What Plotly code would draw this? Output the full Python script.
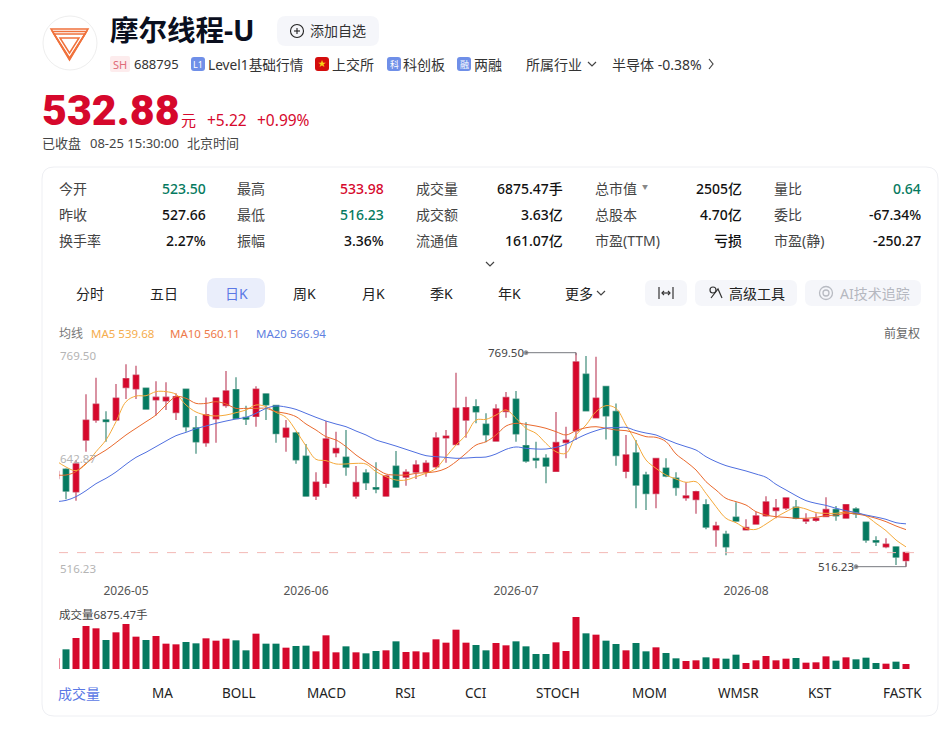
import plotly.graph_objects as go

W, H = 949, 731
FONT = "Noto Sans, Noto Sans CJK SC"
RED = "#d6082c"
GREEN = "#057a60"
BLUE = "#5b78e5"

# daily candles
opens = [620.8, 631.4, 605.0, 666.2, 689.8, 689.8, 689.8, 728.5, 726.9, 727.3, 713.9, 712.7, 698.9, 726.1, 680.4,
         663.0, 691.4, 707.2, 725.7, 692.6, 694.2, 720.6, 706.8, 669.7, 674.4, 646.8, 599.9, 614.9, 651.2, 645.6,
         599.9, 627.1, 609.7, 599.9, 635.0, 622.4, 628.3, 628.7, 634.6, 668.9, 661.0, 689.8, 705.6, 684.7, 665.0,
         700.1, 714.3, 659.4, 644.1, 644.5, 629.1, 663.4, 677.2, 743.9, 692.6, 729.3, 699.7, 629.1, 650.8, 624.7,
         603.0, 632.6, 620.8, 597.9, 595.9, 589.6, 560.0, 554.5, 574.6, 560.0, 566.8, 576.6, 582.9, 585.7, 586.5,
         570.3, 571.1, 575.8, 583.7, 573.8, 584.5, 568.7, 547.0, 539.9, 539.5, 523.50]
highs = [632.6, 632.6, 642.5, 720.2, 739.9, 700.1, 732.4, 755.7, 754.1, 727.3, 735.6, 734.4, 721.4, 726.1, 694.6,
         716.6, 716.6, 747.8, 740.3, 706.8, 729.7, 720.6, 706.8, 689.8, 676.0, 661.4, 627.9, 688.6, 676.0, 678.0,
         635.4, 631.4, 639.7, 624.7, 653.1, 631.4, 642.1, 642.1, 675.2, 678.0, 745.8, 717.4, 714.3, 697.7, 708.4,
         723.0, 724.1, 687.1, 664.2, 649.2, 699.3, 681.9, 769.50, 765.6, 764.8, 729.3, 709.5, 672.1, 666.2, 628.7,
         644.1, 644.5, 627.9, 616.1, 606.2, 595.9, 569.5, 558.9, 592.4, 572.3, 581.3, 599.5, 596.3, 598.3, 595.2,
         579.4, 579.4, 598.3, 588.0, 590.0, 586.5, 568.7, 552.1, 549.8, 539.5, 533.98]
lows = [616.8, 595.9, 594.4, 652.3, 686.7, 664.2, 689.8, 714.7, 714.7, 702.8, 695.3, 701.7, 689.8, 676.0, 650.0,
        658.3, 663.0, 704.4, 691.8, 683.9, 681.9, 689.8, 663.0, 652.3, 638.1, 599.9, 595.1, 609.7, 645.6, 623.9,
        596.7, 607.0, 603.0, 599.9, 610.5, 612.1, 620.0, 622.8, 631.4, 639.3, 660.2, 668.9, 685.9, 663.4, 665.0,
        692.6, 664.2, 639.3, 632.6, 614.9, 629.1, 644.5, 666.2, 700.1, 691.8, 666.9, 635.8, 620.8, 585.3, 583.3,
        585.3, 622.0, 600.3, 594.4, 579.0, 560.4, 539.9, 529.7, 569.5, 559.2, 566.8, 575.4, 573.5, 583.3, 572.3,
        566.8, 569.5, 575.4, 570.7, 573.8, 573.8, 544.7, 540.7, 538.0, 518.2, 516.23]
closes = [628.7, 605.8, 637.8, 689.4, 708.4, 688.2, 715.5, 738.7, 742.7, 702.8, 716.6, 716.6, 717.4, 681.9, 664.2,
          696.1, 715.9, 724.1, 691.8, 691.0, 726.1, 708.0, 674.0, 680.0, 642.9, 599.9, 616.1, 667.3, 655.9, 634.2,
          615.7, 615.7, 608.2, 623.5, 610.5, 627.9, 636.6, 638.5, 668.5, 670.5, 703.6, 704.4, 699.7, 672.5, 702.8,
          716.3, 673.6, 641.3, 642.5, 635.4, 663.0, 665.8, 758.5, 700.9, 715.5, 694.9, 648.0, 648.4, 612.9, 603.0,
          644.1, 623.5, 610.1, 599.9, 605.0, 563.2, 564.4, 539.9, 570.3, 562.4, 576.2, 592.8, 585.7, 597.5, 573.5,
          571.9, 573.1, 583.7, 576.6, 589.6, 579.0, 547.8, 545.4, 542.7, 527.66, 532.88]
volumes = [14660, 27020, 42590, 59080, 55880, 39850, 50380, 61830, 44430, 39850, 45340, 34810, 33890, 37100, 35270,
           42140, 38930, 41680, 39390, 25650, 48550, 34810, 34810, 29310, 31600, 32060, 24270, 46260, 22900, 31140,
           22900, 21530, 24730, 25650, 38010, 23360, 24270, 22900, 40760, 36180, 54040, 36180, 32980, 25650, 35720,
           32520, 38010, 31140, 20610, 20610, 36640, 24730, 71450, 49010, 47170, 38930, 34350, 25650, 35720, 24270,
           29770, 21980, 14660, 10990, 11910, 16030, 14660, 14200, 19690, 8240, 11910, 17860, 11910, 14200, 15110,
           8700, 9160, 17400, 11450, 16030, 13280, 15570, 8240, 7330, 10080, 6875.47]
ma5 = [641.7, 634.2, 629.9, 637.7, 652.3, 666.2, 687.8, 711.5, 718.2, 718.6, 723.4, 723.4, 720.2, 707.6, 699.3,
       695.7, 694.6, 695.7, 698.5, 701.7, 707.6, 705.6, 698.9, 693.0, 677.2, 659.0, 643.3, 641.7, 637.8, 637.8,
       638.5, 637.7, 628.7, 622.8, 618.8, 618.8, 622.8, 626.7, 632.6, 646.4, 660.2, 672.1, 689.8, 690.6, 695.7,
       701.7, 691.8, 680.0, 674.0, 662.2, 652.3, 650.4, 672.1, 683.9, 699.7, 706.8, 703.6, 683.9, 664.2, 642.5,
       632.6, 624.7, 620.0, 616.1, 616.8, 603.0, 587.3, 573.5, 568.3, 561.6, 560.4, 566.7, 574.6, 581.3, 586.5,
       584.5, 580.2, 579.4, 579.4, 581.0, 580.2, 576.2, 567.5, 558.9, 547.8, 539.68]
ma10 = [624.7, 624.7, 628.7, 638.5, 647.2, 654.3, 663.0, 672.1, 680.0, 687.8, 695.7, 707.6, 717.4, 715.5, 709.5,
        709.5, 711.5, 708.8, 703.6, 703.6, 703.6, 703.6, 699.7, 697.7, 693.8, 685.1, 678.0, 670.1, 666.2, 658.3,
        648.4, 640.5, 632.6, 625.9, 624.7, 624.7, 626.7, 627.5, 628.7, 632.6, 640.5, 650.4, 660.2, 664.2, 672.1,
        682.7, 685.9, 684.7, 682.7, 680.0, 676.0, 672.1, 677.2, 680.7, 681.9, 680.0, 678.0, 677.2, 674.0, 670.1,
        669.3, 664.2, 649.6, 640.5, 630.7, 616.8, 607.0, 597.1, 593.2, 589.2, 581.3, 577.4, 575.4, 574.6, 573.5,
        573.5, 574.6, 576.6, 577.4, 579.4, 578.6, 576.6, 573.5, 569.5, 564.4, 560.11]
ma20 = [593.2, 594.7, 599.1, 606.2, 614.5, 620.8, 628.3, 637.4, 645.6, 651.6, 658.3, 665.0, 671.3, 675.2, 679.6,
        682.7, 685.9, 688.6, 691.0, 693.0, 697.7, 703.6, 706.4, 705.2, 702.4, 697.7, 693.0, 688.6, 685.1, 681.9,
        676.8, 672.1, 666.2, 662.6, 659.0, 655.1, 651.2, 647.6, 646.4, 645.6, 644.5, 644.8, 645.6, 646.0, 649.6,
        655.1, 657.9, 656.3, 655.5, 655.5, 657.5, 661.0, 667.3, 672.9, 677.2, 680.4, 680.7, 681.1, 677.2, 674.4,
        672.1, 667.0, 662.2, 658.3, 654.3, 646.4, 640.5, 635.8, 632.6, 629.5, 625.9, 622.0, 613.7, 607.0, 600.3,
        594.4, 591.2, 588.8, 585.3, 582.5, 580.2, 577.4, 575.0, 572.3, 568.3, 566.94]

month_pos = [7, 25, 46, 69]
month_labels = ["2026-05", "2026-06", "2026-07", "2026-08"]
price_ticks = [769.50, 642.87, 516.23]
last_close = 532.88

days = list(range(len(closes)))
body_hi = [max(o, c) for o, c in zip(opens, closes)]
body_lo = [min(o, c) for o, c in zip(opens, closes)]
vol_colors = [RED if c >= o else GREEN for o, c in zip(opens, closes)]


# page furniture is placed in screen pixels
def px(x):
    return x / W


def py(y):
    return 1 - y / H


annots = []
shapes = []


def txt(x, y, s, size=13, color="#333333", anchor="left", weight=None, family=FONT, height=None):
    # plotly pads annotations by a pixel or so
    nudge = {"left": -1, "right": 1, "center": 0}[anchor]
    annots.append(dict(x=px(x + nudge), y=py(y - 1), xref="paper", yref="paper", text=s, showarrow=False,
                       xanchor=anchor, yanchor="middle", borderpad=0, height=height,
                       font=dict(size=size, color=color, family=family, weight=weight)))


def rrect(x0, y0, x1, y1, r, fill="rgba(0,0,0,0)", line="rgba(0,0,0,0)", lw=0):
    d = (f"M {px(x0 + r)} {py(y0)} L {px(x1 - r)} {py(y0)} Q {px(x1)} {py(y0)} {px(x1)} {py(y0 + r)} "
         f"L {px(x1)} {py(y1 - r)} Q {px(x1)} {py(y1)} {px(x1 - r)} {py(y1)} "
         f"L {px(x0 + r)} {py(y1)} Q {px(x0)} {py(y1)} {px(x0)} {py(y1 - r)} "
         f"L {px(x0)} {py(y0 + r)} Q {px(x0)} {py(y0)} {px(x0 + r)} {py(y0)} Z")
    shapes.append(dict(type="path", xref="paper", yref="paper", path=d, fillcolor=fill,
                       line=dict(color=line, width=lw), layer="below"))


def poly(pts, color="#333333", lw=1.2, close=False):
    d = "M " + " L ".join(f"{px(a)} {py(b)}" for a, b in pts) + (" Z" if close else "")
    shapes.append(dict(type="path", xref="paper", yref="paper", path=d,
                       line=dict(color=color, width=lw), layer="above"))


def circle(cx, cy, r, color="#333333", lw=1.2, fill="rgba(0,0,0,0)"):
    shapes.append(dict(type="circle", xref="paper", yref="paper", x0=px(cx - r), x1=px(cx + r),
                       y0=py(cy + r), y1=py(cy - r), fillcolor=fill, line=dict(color=color, width=lw)))


def chevron(x, y, color="#444444"):
    poly([(x - 4, y - 2), (x, y + 2), (x + 4, y - 2)], color)


# logo
circle(70, 43, 27, "#eeeeee", 1)
for k in range(3):
    poly([(51 + k * 1.5, 29 + k * 2.5), (88 - k * 1.5, 29 + k * 2.5), (69.5, 60 - k * 1)], "#f0723c", 1.5, True)
poly([(60, 38), (79, 38), (69.5, 53)], "#f0723c", 1.5, True)

# header
txt(110, 31, "摩尔线程-U", 28.5, "#0a0f1e", weight=700)
rrect(277, 16, 379, 46, 9, fill="#f5f6fa")
circle(297, 31, 6.5, "#222222", 1.1)
poly([(294, 31), (300, 31)], "#222222", 1.1)
poly([(297, 28), (297, 34)], "#222222", 1.1)
txt(310, 31, "添加自选", 14)

rrect(110, 56, 130, 72, 2, fill="#fdeced")
txt(120, 65, "SH", 11, "#e06a78", "center")
txt(134, 65, "688795", 13)
for x0, mark in [(191, "L1"), (387, "科"), (457, "融")]:
    rrect(x0, 57, x0 + 14, 71, 3, fill="#6f8fe8")
    txt(x0 + 7, 65, mark, 9, "#ffffff", "center")
rrect(315, 57, 329, 71, 3, fill="#d40d0d")
txt(322, 64, "★", 8, "#f7d417", "center")
txt(208, 65, "Level1基础行情", 13.7)
txt(332, 65, "上交所", 14)
txt(403, 65, "科创板", 14)
txt(474, 65, "两融", 14)
txt(526, 65, "所属行业", 14)
chevron(592, 64)
txt(612, 65, "半导体 -0.38%", 14)
poly([(709, 59), (713, 64), (709, 69)], "#444444")

txt(42, 111, "532.88", 43, RED, weight=900, family="Roboto", height=40)
txt(181, 121, "元", 15, RED, height=16)
txt(207, 121, "+5.22", 15.5, RED)
txt(257, 121, "+0.99%", 15.5, RED)
txt(42, 144, "已收盘", 13, "#444444", height=18)
txt(90, 144, "08-25 15:30:00", 13, "#444444", height=18)
txt(187, 144, "北京时间", 13, "#444444", height=18)

# card and quote table
rrect(42, 167, 938, 716, 12, fill="#ffffff", line="#eeeff3", lw=1)
rows = [189, 215, 241]
columns = [
    (59, 206, ["今开", "昨收", "换手率"], ["523.50", "527.66", "2.27%"], [GREEN, "#111111", "#111111"]),
    (237, 384, ["最高", "最低", "振幅"], ["533.98", "516.23", "3.36%"], [RED, GREEN, "#111111"]),
    (416, 563, ["成交量", "成交额", "流通值"], ["6875.47手", "3.63亿", "161.07亿"], ["#111111"] * 3),
    (595, 742, ["总市值", "总股本", "市盈(TTM)"], ["2505亿", "4.70亿", "亏损"], ["#111111"] * 3),
    (774, 921, ["量比", "委比", "市盈(静)"], ["0.64", "-67.34%", "-250.27"], [GREEN, "#111111", "#111111"]),
]
for lx, rx, labels, vals, cols in columns:
    for y, lab, val, col in zip(rows, labels, vals, cols):
        txt(lx, y, lab, 14, "#444444")
        txt(rx, y, val, 14, col, "right", weight=500)
txt(645, 188, "▼", 6, "#888888", "center")
chevron(490, 264)

# period tabs
rrect(207, 278, 265, 308, 9, fill="#eaeefb")
for cx, lab in [(90, "分时"), (164, "五日"), (304, "周K"), (373, "月K"), (441, "季K"), (509, "年K")]:
    txt(cx, 294, lab, 14, "#222222", "center")
txt(236, 294, "日K", 14, BLUE, "center")
txt(565, 294, "更多", 14, "#222222")
chevron(601, 293)
rrect(645, 280, 687, 306, 7, fill="#f5f6fa")
poly([(659, 287), (659, 299)], "#333333")
poly([(673, 287), (673, 299)], "#333333")
poly([(662, 293), (670, 293)], "#333333")
poly([(664, 291), (662, 293), (664, 295)], "#333333")
poly([(668, 291), (670, 293), (668, 295)], "#333333")
rrect(695, 280, 797, 306, 7, fill="#f5f6fa")
circle(713, 290, 3, "#333333", 1.2)
poly([(711, 298), (718, 289), (722, 298)], "#333333")
txt(729, 294, "高级工具", 14, "#222222")
rrect(805, 280, 921, 306, 7, fill="#f5f6fa")
circle(826, 293, 6.5, "#b8bbc2", 1.3)
circle(826, 293, 3, "#b8bbc2", 1.3)
txt(840, 294, "AI技术追踪", 14, "#b5b8c0")

# chart captions
txt(59, 334, "均线", 12, "#777777")
txt(91, 334, "MA5 539.68", 11.5, "#f5ad4e")
txt(170, 334, "MA10 560.11", 11.5, "#ee7a4a")
txt(256, 334, "MA20 566.94", 11.5, "#5f7fe0")
txt(920, 334, "前复权", 12, "#666666", "right")
txt(59, 615, "成交量6875.47手", 11.5, "#444444")

# indicator tabs
txt(58, 694, "成交量", 14, BLUE)
for cx, lab in [(162, "MA"), (239, "BOLL"), (326, "MACD"), (405, "RSI"), (476, "CCI"), (558, "STOCH"),
                (649, "MOM"), (738, "WMSR"), (820, "KST"), (902, "FASTK")]:
    txt(cx, 694, lab, 13.5, "#222222", "center")

# close price line, price labels and the high / low callouts
shapes.append(dict(type="line", xref="x domain", yref="y", x0=0, x1=1, y0=last_close, y1=last_close,
                   line=dict(color="#f3b9b5", width=1, dash="dash")))
for val, shift in zip(price_ticks, [-3, 1, -2]):
    annots.append(dict(x=px(58), y=val, xref="paper", yref="y", yshift=shift, text=f"{val:.2f}", showarrow=False,
                       xanchor="left", font=dict(size=11.5, color="#b4b4b4", family=FONT)))
annots.append(dict(x=47.0, y=highs[52], xref="x", yref="y", text="769.50", showarrow=False, xanchor="right",
                   font=dict(size=11.5, color="#444444", family=FONT)))
annots.append(dict(x=80.0, y=lows[85], xref="x", yref="y", text="516.23", showarrow=False, xanchor="right",
                   font=dict(size=11.5, color="#444444", family=FONT)))

fig = go.Figure()
# wicks sit underneath in a paler tone, bodies are drawn again on top
fig.add_trace(go.Candlestick(x=days, open=opens, high=highs, low=lows, close=closes, whiskerwidth=0,
                             increasing=dict(line=dict(color="#d0788c", width=1.6), fillcolor=RED),
                             decreasing=dict(line=dict(color="#6fa99b", width=1.6), fillcolor=GREEN)))
fig.add_trace(go.Candlestick(x=days, open=opens, high=body_hi, low=body_lo, close=closes, whiskerwidth=0,
                             increasing=dict(line=dict(color=RED, width=0.5), fillcolor=RED),
                             decreasing=dict(line=dict(color=GREEN, width=0.5), fillcolor=GREEN)))
for vals, col in [(ma5, "#f5a93a"), (ma10, "#ea6a2e"), (ma20, "#4f6fe0")]:
    fig.add_trace(go.Scatter(x=days, y=vals, mode="lines", line=dict(color=col, width=1, shape="spline")))
fig.add_trace(go.Scatter(x=[47, 52, 52], y=[highs[52], highs[52], highs[52] - 3], mode="lines+markers",
                         line=dict(color="#77797f", width=1), marker=dict(size=[4, 0, 0], color="#55575c")))
fig.add_trace(go.Scatter(x=[80, 85, 85], y=[lows[85], lows[85], lows[85] + 5], mode="lines+markers",
                         line=dict(color="#77797f", width=1), marker=dict(size=[4, 0, 0], color="#55575c")))
fig.add_trace(go.Bar(x=days, y=volumes, marker=dict(color=vol_colors, line_width=0), xaxis="x2", yaxis="y2"))

fig.update_layout(
    width=W, height=H, margin=dict(l=0, r=0, t=0, b=0), paper_bgcolor="#ffffff", plot_bgcolor="rgba(0,0,0,0)",
    showlegend=False, boxmode="overlay", boxgap=0.25, bargap=0.3, font=dict(family=FONT),
    annotations=annots, shapes=shapes,
    xaxis=dict(domain=[px(59), px(921)], range=[0.3, 86.5], rangeslider=dict(visible=False), showgrid=False,
               zeroline=False, showline=False, tickmode="array", tickvals=month_pos, ticktext=month_labels,
               tickfont=dict(size=12, color="#555555"), ticks="", anchor="y"),
    yaxis=dict(domain=[py(582), py(345)], range=[498.1, 778.6], showgrid=False, zeroline=False, showline=False,
               showticklabels=False, ticks="", anchor="x"),
    xaxis2=dict(domain=[px(59), px(921)], range=[0.3, 86.5], visible=False, anchor="y2"),
    yaxis2=dict(domain=[py(669), py(615)], range=[0, 74196], visible=False, anchor="x2"),
)

fig.write_html("out.html", config={"displayModeBar": False},
               post_script="document.body.style.margin='0';document.body.style.overflow='hidden';")
